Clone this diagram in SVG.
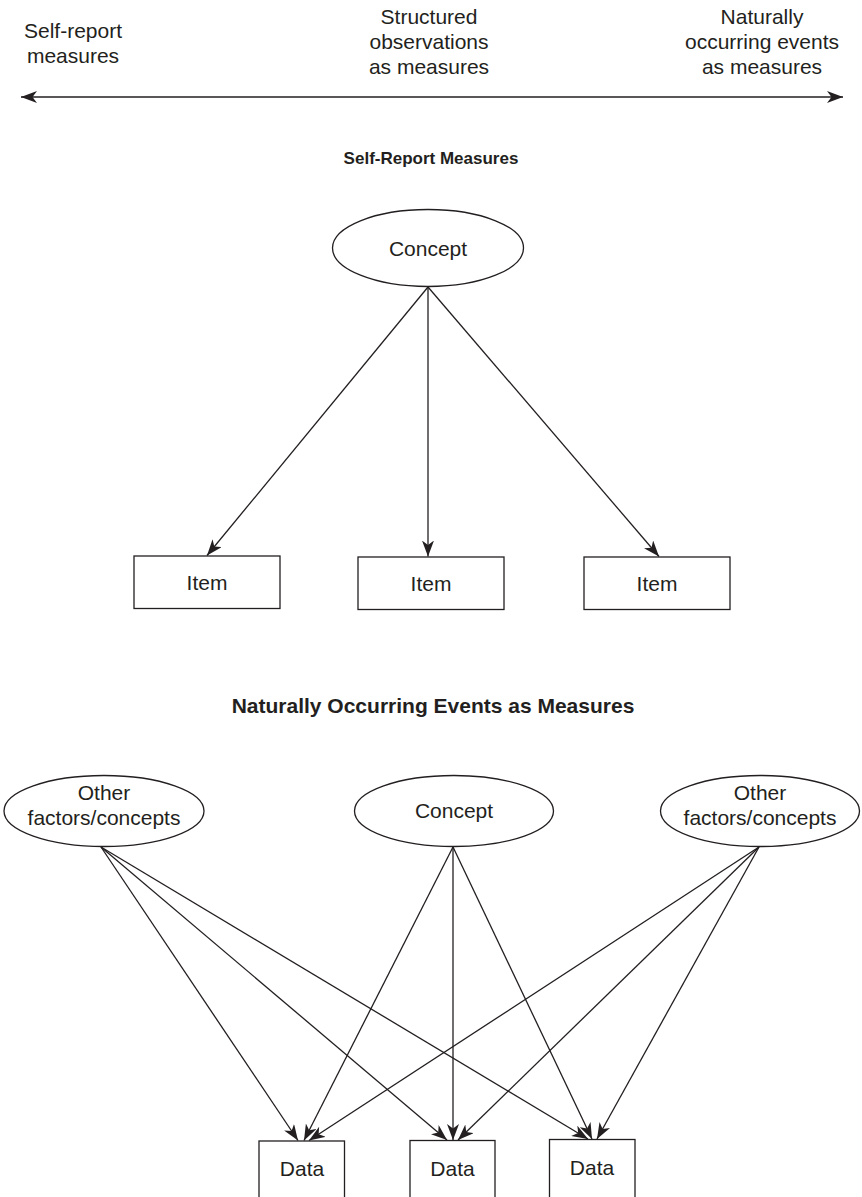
<svg xmlns="http://www.w3.org/2000/svg" width="862" height="1197" viewBox="0 0 862 1197">
  <style>
    .lbl { font-family: "Liberation Sans", Arial, sans-serif; font-size: 21px; fill: #231f20; text-anchor: middle; }
    .ttl { font-family: "Liberation Sans", Arial, sans-serif; font-size: 17px; font-weight: bold; fill: #231f20; text-anchor: middle; }
    .shape { fill: #ffffff; stroke: #231f20; stroke-width: 1.3; }
    .edge { fill: none; stroke: #231f20; stroke-width: 1.3; marker-end: url(#head); }
  </style>
  <defs>
    <marker id="head" viewBox="0 0 16 12" markerWidth="16" markerHeight="12" refX="16" refY="6" orient="auto" markerUnits="userSpaceOnUse">
      <path d="M16,6 L0,0 L4.5,6 L0,12 Z" fill="#231f20"/>
    </marker>
    <marker id="head2" viewBox="0 0 16 12" markerWidth="16" markerHeight="12" refX="16" refY="6" orient="auto-start-reverse" markerUnits="userSpaceOnUse">
      <path d="M16,6 L0,0 L4.5,6 L0,12 Z" fill="#231f20"/>
    </marker>
  </defs>

  <rect width="862" height="1197" fill="#ffffff"/>

  <!-- Measurement continuum -->
  <g id="continuum">
    <text class="lbl" x="73" y="38">Self-report</text>
    <text class="lbl" x="73" y="63">measures</text>
    <text class="lbl" x="429" y="24">Structured</text>
    <text class="lbl" x="429" y="49">observations</text>
    <text class="lbl" x="429" y="74">as measures</text>
    <text class="lbl" x="762" y="24">Naturally</text>
    <text class="lbl" x="762" y="49">occurring events</text>
    <text class="lbl" x="762" y="74">as measures</text>
    <line x1="21" y1="97" x2="843" y2="97" stroke="#231f20" stroke-width="1.3" marker-start="url(#head2)" marker-end="url(#head2)"/>
  </g>

  <!-- Self-report measures model -->
  <text id="title-self-report" class="ttl" x="431" y="164">Self-Report Measures</text>

  <g id="concept-top">
    <ellipse class="shape" cx="428" cy="248" rx="95.5" ry="38.5"/>
    <text class="lbl" x="428" y="256">Concept</text>
  </g>
  <g id="item-1">
    <rect class="shape" x="134" y="556" width="146" height="52.5"/>
    <text class="lbl" x="207" y="590">Item</text>
  </g>
  <g id="item-2">
    <rect class="shape" x="358" y="557" width="146" height="52.5"/>
    <text class="lbl" x="431" y="591">Item</text>
  </g>
  <g id="item-3">
    <rect class="shape" x="584" y="557" width="146" height="52.5"/>
    <text class="lbl" x="657" y="591">Item</text>
  </g>

  <!-- Naturally occurring events model -->
  <text id="title-natural" class="ttl" x="433" y="713" style="font-size:21px">Naturally Occurring Events as Measures</text>

  <g id="other-left">
    <ellipse class="shape" cx="104" cy="811" rx="100" ry="35.5"/>
    <text class="lbl" x="104" y="800">Other</text>
    <text class="lbl" x="104" y="825">factors/concepts</text>
  </g>
  <g id="concept-bottom">
    <ellipse class="shape" cx="454" cy="811" rx="99.5" ry="35.5"/>
    <text class="lbl" x="454" y="818">Concept</text>
  </g>
  <g id="other-right">
    <ellipse class="shape" cx="760" cy="811" rx="99.5" ry="35.5"/>
    <text class="lbl" x="760" y="800">Other</text>
    <text class="lbl" x="760" y="825">factors/concepts</text>
  </g>
  <g id="data-1">
    <rect class="shape" x="259" y="1141" width="85.5" height="70"/>
    <text class="lbl" x="302" y="1176">Data</text>
  </g>
  <g id="data-2">
    <rect class="shape" x="410" y="1140.5" width="85" height="70"/>
    <text class="lbl" x="452.5" y="1176">Data</text>
  </g>
  <g id="data-3">
    <rect class="shape" x="549.5" y="1139.5" width="85.5" height="70"/>
    <text class="lbl" x="592" y="1175">Data</text>
  </g>

  <g id="connectors">
    <!-- concept to items -->
    <line class="edge" x1="428" y1="287" x2="207" y2="555.5"/>
    <line class="edge" x1="428" y1="287" x2="428" y2="556.5"/>
    <line class="edge" x1="428" y1="287" x2="659" y2="556.5"/>
    <!-- left factors to data -->
    <line class="edge" x1="101" y1="847" x2="298" y2="1140.5"/>
    <line class="edge" x1="101" y1="847" x2="447" y2="1140"/>
    <line class="edge" x1="101" y1="847" x2="588" y2="1139"/>
    <!-- concept to data -->
    <line class="edge" x1="453" y1="847" x2="304" y2="1140.5"/>
    <line class="edge" x1="453" y1="847" x2="453" y2="1140"/>
    <line class="edge" x1="453" y1="847" x2="592" y2="1139"/>
    <!-- right factors to data -->
    <line class="edge" x1="759" y1="847" x2="309" y2="1140.5"/>
    <line class="edge" x1="759" y1="847" x2="458" y2="1140"/>
    <line class="edge" x1="759" y1="847" x2="597" y2="1139"/>
  </g>
</svg>
